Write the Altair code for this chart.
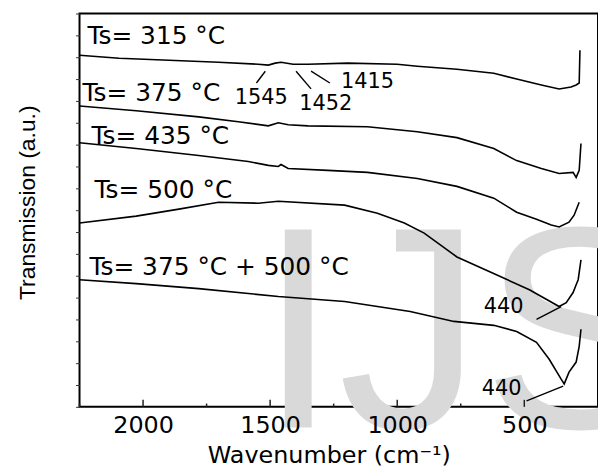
import altair as alt
import pandas as pd

# ---- data ----
wn_315 = [2250, 2094, 1898, 1703, 1547, 1507, 1480, 1457, 1410, 1351, 1195, 1000, 921, 765, 620, 530, 433, 363, 316, 296, 284, 281]
tr_315 = [16.09, 15.95, 15.86, 15.77, 15.68, 15.64, 15.73, 15.77, 15.68, 15.68, 15.73, 15.68, 15.59, 15.45, 15.27, 15.0, 14.73, 14.55, 14.64, 14.73, 14.82, 16.32]

wn_375 = [2250, 2027, 1781, 1625, 1507, 1468, 1429, 1351, 1117, 921, 765, 620, 530, 433, 363, 308, 296, 284, 277]
tr_375 = [13.77, 13.55, 13.27, 13.05, 12.86, 13.0, 12.91, 12.86, 12.82, 12.59, 12.32, 11.82, 11.27, 10.91, 10.68, 10.73, 10.5, 10.82, 12.05]

wn_435 = [2250, 2027, 1781, 1586, 1507, 1468, 1457, 1429, 1273, 1117, 921, 765, 620, 530, 452, 394, 363, 324, 304, 284]
tr_435 = [12.09, 11.82, 11.5, 11.23, 11.05, 11.0, 11.09, 10.91, 10.82, 10.73, 10.45, 10.09, 9.55, 8.91, 8.59, 8.32, 8.23, 8.45, 8.77, 9.36]

wn_500 = [2250, 2027, 1859, 1703, 1547, 1468, 1207, 1078, 972, 894, 765, 636, 480, 363, 335, 308, 296, 288, 277]
tr_500 = [8.41, 8.73, 9.05, 9.36, 9.32, 9.41, 9.23, 8.86, 8.41, 7.95, 6.86, 6.18, 5.36, 4.59, 4.77, 5.23, 5.59, 5.82, 6.73]

wn_mix = [2250, 2027, 1781, 1468, 1207, 949, 777, 620, 530, 452, 402, 355, 343, 324, 296, 284, 277]
tr_mix = [5.82, 5.64, 5.41, 5.05, 4.82, 4.36, 3.91, 3.73, 3.45, 2.95, 2.18, 1.27, 1.05, 1.59, 2.05, 2.77, 3.55]

series_names = ["Ts= 315 °C", "Ts= 375 °C", "Ts= 435 °C", "Ts= 500 °C", "Ts= 375 °C + 500 °C"]
label_wn = [2219, 2238, 2203, 2191, 2211]
label_tr = [16.95, 14.36, 12.41, 9.91, 6.41]

peak_text = ["1545", "1452", "1415", "440", "440"]
peak_wn = [1535, 1281, 1117, 581, 589]
peak_tr = [14.14, 13.86, 14.86, 4.55, 0.82]

lead_wn1 = [1554, 1398, 1339, 452, 491]
lead_wn2 = [1519, 1339, 1265, 355, 347]
lead_tr1 = [14.82, 15.36, 15.36, 4.0, 0.27]
lead_tr2 = [15.36, 14.55, 14.82, 4.59, 0.95]

x_major = [2000, 1500, 1000, 500]
x_minor = [2250, 1750, 1250, 750]
y_ticks = list(range(0, 19))

wm_text = ["IJS"]
wm_wn = [1547]
wm_tr = [-0.95]

x_domain = [2250, 210]
y_domain = [0, 18]

# ---- tables ----
curves = [(wn_315, tr_315), (wn_375, tr_375), (wn_435, tr_435), (wn_500, tr_500), (wn_mix, tr_mix)]
rows = []
for name, (w, t) in zip(series_names, curves):
    for i, (a, b) in enumerate(zip(w, t)):
        rows.append({"series": name, "wn": a, "tr": b, "i": i})
df_lines = pd.DataFrame(rows)
df_labels = pd.DataFrame({"text": series_names, "wn": label_wn, "tr": label_tr})
df_peaks = pd.DataFrame({"text": peak_text, "wn": peak_wn, "tr": peak_tr})
df_leads = pd.DataFrame({"wn": lead_wn1, "wn2": lead_wn2, "tr": lead_tr1, "tr2": lead_tr2})
df_ticks = pd.DataFrame({"wn": x_major + x_minor,
                         "y0": [0] * (len(x_major) + len(x_minor)),
                         "y1": [0.32] * len(x_major) + [0.15] * len(x_minor)})
df_wm = pd.DataFrame({"text": wm_text, "wn": wm_wn, "tr": wm_tr})

xs = alt.Scale(domain=x_domain, nice=False, zero=False)
ys = alt.Scale(domain=y_domain, nice=False, zero=False)

x_axis = alt.Axis(values=x_major, format="d", ticks=False, domain=False, grid=False,
                  labelFont="DejaVu Sans", labelFontSize=24, labelColor="black", labelPadding=7,
                  title="Wavenumber (cm⁻¹)", titleFont="DejaVu Sans", titleFontSize=24,
                  titleFontWeight="normal", titleColor="black", titlePadding=6, titleX=251, zindex=1)
y_axis = alt.Axis(values=y_ticks, labels=False, domain=False, grid=False, tickSize=4,
                  tickColor="#333333", tickWidth=1,
                  title="Transmission (a.u.)", titleFont="Liberation Sans", titleFontSize=23,
                  titleFontWeight="normal", titleColor="black", titlePadding=36, titleY=190, zindex=1)

X = alt.X("wn:Q", scale=xs, axis=x_axis)
Y = alt.Y("tr:Q", scale=ys, axis=y_axis)

watermark = alt.Chart(df_wm).mark_text(
    font="Liberation Sans", fontSize=290, color="#d9d9d9", align="left", baseline="alphabetic"
).encode(x=X, y=Y, text="text:N")

lines = alt.Chart(df_lines).mark_line(color="black", strokeWidth=1.6).encode(
    x=X, y=Y, detail="series:N", order="i:Q",
)

leads = alt.Chart(df_leads).mark_rule(color="black", strokeWidth=1.4).encode(
    x=X, x2="wn2:Q", y=Y, y2="tr2:Q",
)

labels = alt.Chart(df_labels).mark_text(
    font="DejaVu Sans", fontSize=25, color="black", align="left", baseline="middle"
).encode(x=X, y=Y, text="text:N")

peaks = alt.Chart(df_peaks).mark_text(
    font="DejaVu Sans", fontSize=21, color="black", align="center", baseline="middle"
).encode(x=X, y=Y, text="text:N")

ticks = alt.Chart(df_ticks).mark_rule(color="#222222", strokeWidth=1.5).encode(
    x=X, y=alt.Y("y0:Q", scale=ys, axis=y_axis), y2="y1:Q",
)

chart = alt.layer(watermark, lines, leads, labels, peaks, ticks).properties(
    width=522, height=396,
    autosize=alt.AutoSizeParams(type="none"),
    padding={"left": 72, "top": 4, "right": 0, "bottom": 60},
).configure_view(stroke="black", strokeWidth=2)

chart.save("out.html", embed_options={"renderer": "svg", "actions": False})
